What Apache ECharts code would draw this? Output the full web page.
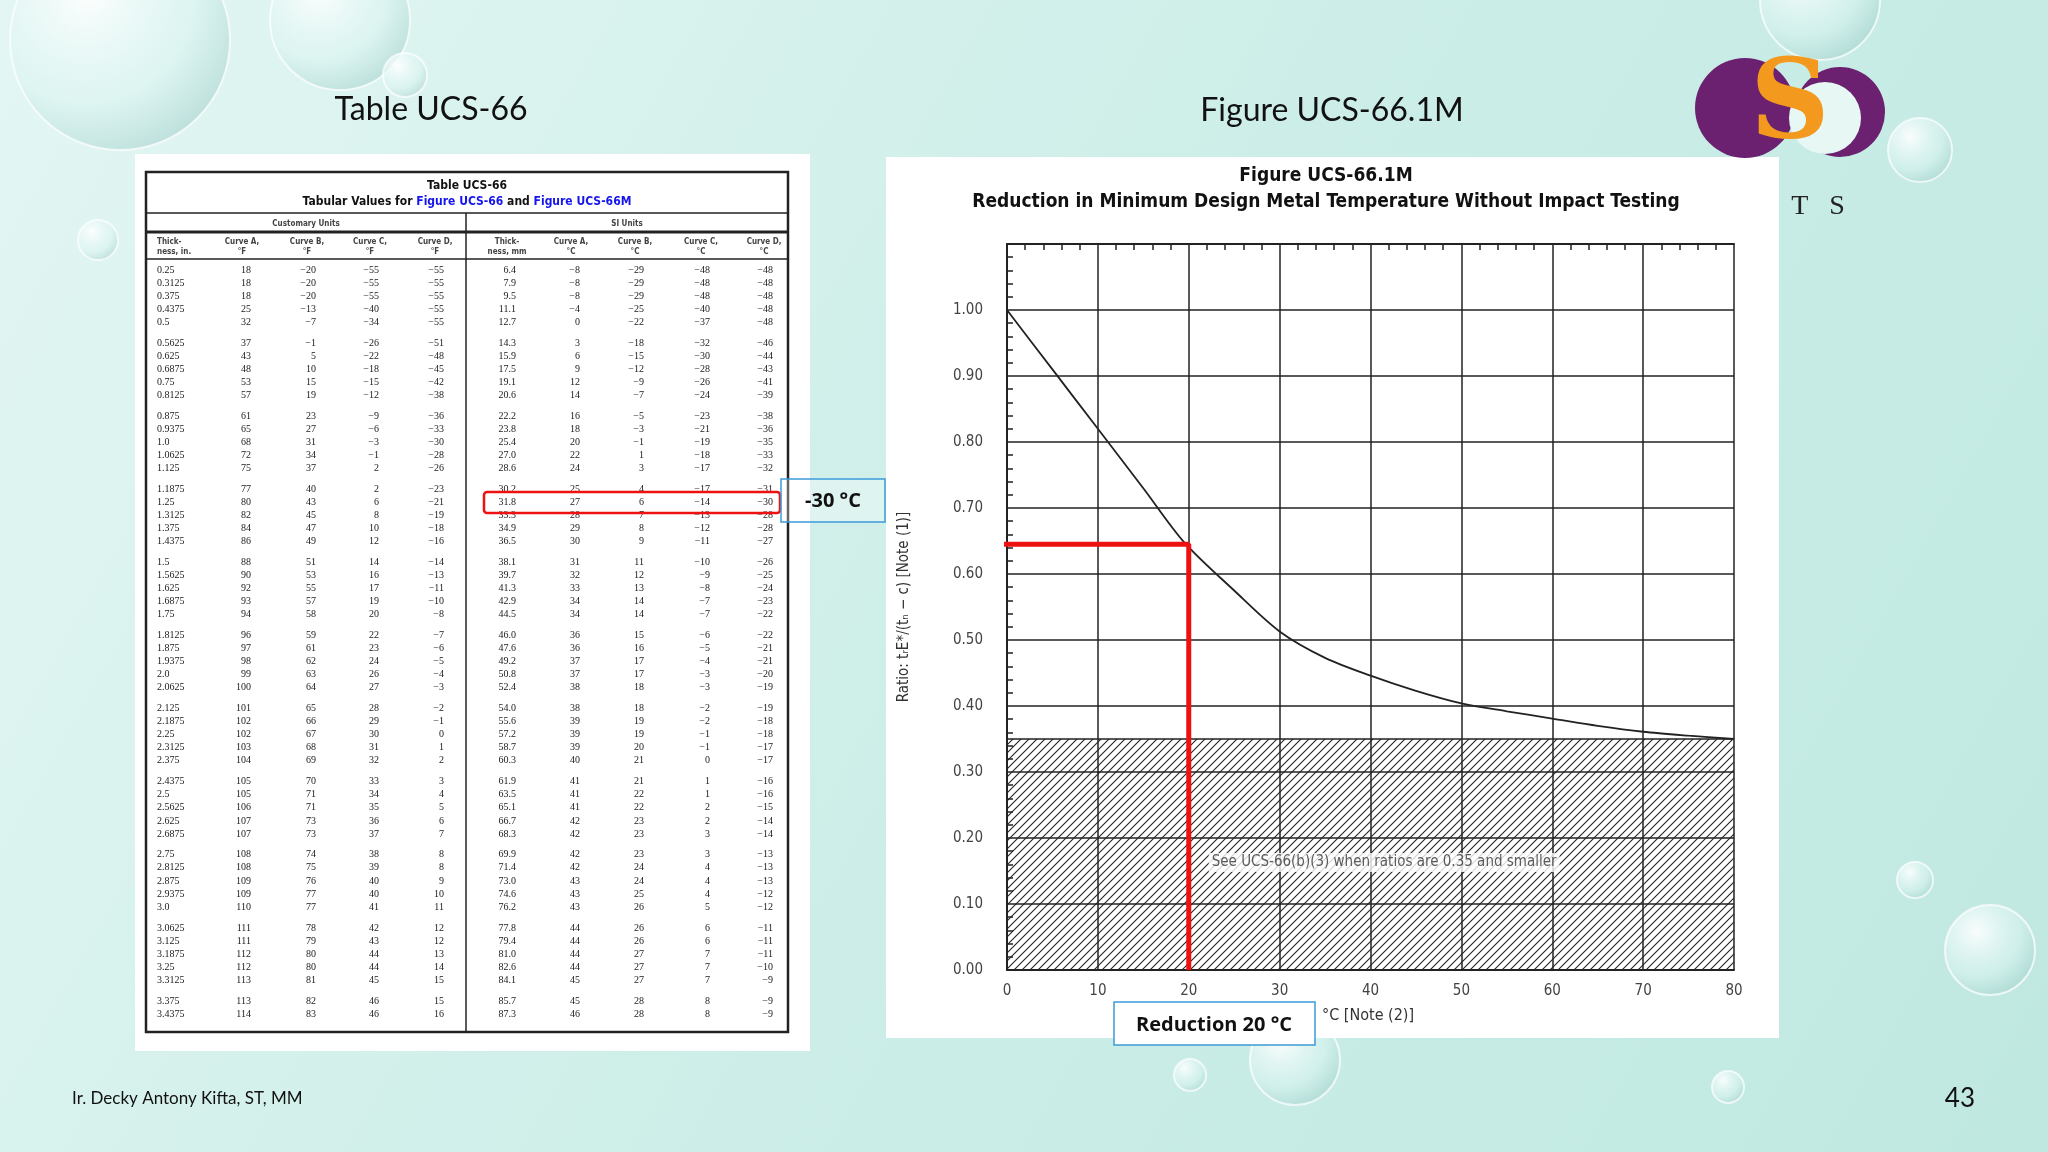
<!DOCTYPE html>
<html><head><meta charset="utf-8">
<script src="https://cdn.jsdelivr.net/npm/echarts@6/dist/echarts.min.js"></script>
<style>html,body{margin:0;padding:0;}#c{width:2048px;height:1152px;}</style>
</head><body><div id="c"></div>
<script>
// ---- chart data ----
const curveX = [0, 5, 10, 15, 19.5, 25, 30, 35, 40, 45, 50, 55, 60, 65, 70, 75, 80];
const curveY = [1.0, 0.91, 0.82, 0.73, 0.648, 0.575, 0.513, 0.473, 0.446, 0.423, 0.404, 0.392, 0.381, 0.37, 0.361, 0.355, 0.35];
const hatchX = [0, 80];
const hatchY = [0.35, 0.35];
const reductionX = 20;
const reductionRatio = 0.645;
const yTicks = ['0.00','0.10','0.20','0.30','0.40','0.50','0.60','0.70','0.80','0.90','1.00'];
const xTicks = [0,10,20,30,40,50,60,70,80];

// ---- table data (Table UCS-66) ----
const thickIn = ['0.25','0.3125','0.375','0.4375','0.5','0.5625','0.625','0.6875','0.75','0.8125','0.875','0.9375','1.0','1.0625','1.125','1.1875','1.25','1.3125','1.375','1.4375','1.5','1.5625','1.625','1.6875','1.75','1.8125','1.875','1.9375','2.0','2.0625','2.125','2.1875','2.25','2.3125','2.375','2.4375','2.5','2.5625','2.625','2.6875','2.75','2.8125','2.875','2.9375','3.0','3.0625','3.125','3.1875','3.25','3.3125','3.375','3.4375'];
const curveAF = [18,18,18,25,32,37,43,48,53,57,61,65,68,72,75,77,80,82,84,86,88,90,92,93,94,96,97,98,99,100,101,102,102,103,104,105,105,106,107,107,108,108,109,109,110,111,111,112,112,113,113,114];
const curveBF = [-20,-20,-20,-13,-7,-1,5,10,15,19,23,27,31,34,37,40,43,45,47,49,51,53,55,57,58,59,61,62,63,64,65,66,67,68,69,70,71,71,73,73,74,75,76,77,77,78,79,80,80,81,82,83];
const curveCF = [-55,-55,-55,-40,-34,-26,-22,-18,-15,-12,-9,-6,-3,-1,2,2,6,8,10,12,14,16,17,19,20,22,23,24,26,27,28,29,30,31,32,33,34,35,36,37,38,39,40,40,41,42,43,44,44,45,46,46];
const curveDF = [-55,-55,-55,-55,-55,-51,-48,-45,-42,-38,-36,-33,-30,-28,-26,-23,-21,-19,-18,-16,-14,-13,-11,-10,-8,-7,-6,-5,-4,-3,-2,-1,0,1,2,3,4,5,6,7,8,8,9,10,11,12,12,13,14,15,15,16];
const thickMm = ['6.4','7.9','9.5','11.1','12.7','14.3','15.9','17.5','19.1','20.6','22.2','23.8','25.4','27.0','28.6','30.2','31.8','33.3','34.9','36.5','38.1','39.7','41.3','42.9','44.5','46.0','47.6','49.2','50.8','52.4','54.0','55.6','57.2','58.7','60.3','61.9','63.5','65.1','66.7','68.3','69.9','71.4','73.0','74.6','76.2','77.8','79.4','81.0','82.6','84.1','85.7','87.3'];
const curveAC = [-8,-8,-8,-4,0,3,6,9,12,14,16,18,20,22,24,25,27,28,29,30,31,32,33,34,34,36,36,37,37,38,38,39,39,39,40,41,41,41,42,42,42,42,43,43,43,44,44,44,44,45,45,46];
const curveBC = [-29,-29,-29,-25,-22,-18,-15,-12,-9,-7,-5,-3,-1,1,3,4,6,7,8,9,11,12,13,14,14,15,16,17,17,18,18,19,19,20,21,21,22,22,23,23,23,24,24,25,26,26,26,27,27,27,28,28];
const curveCC = [-48,-48,-48,-40,-37,-32,-30,-28,-26,-24,-23,-21,-19,-18,-17,-17,-14,-13,-12,-11,-10,-9,-8,-7,-7,-6,-5,-4,-3,-3,-2,-2,-1,-1,0,1,1,2,2,3,3,4,4,4,5,6,6,7,7,7,8,8];
const curveDC = [-48,-48,-48,-48,-48,-46,-44,-43,-41,-39,-38,-36,-35,-33,-32,-31,-30,-28,-28,-27,-26,-25,-24,-23,-22,-22,-21,-21,-20,-19,-19,-18,-18,-17,-17,-16,-16,-15,-14,-14,-13,-13,-13,-12,-12,-11,-11,-11,-10,-9,-9,-9];

const fmt = v => (v < 0 ? '\u2212' + Math.abs(v) : String(v));

const chart = echarts.init(document.getElementById('c'));

const pat = document.createElement('canvas');
pat.width = 8; pat.height = 8;
const pc = pat.getContext('2d');
pc.strokeStyle = '#222'; pc.lineWidth = 1.1;
pc.beginPath(); pc.moveTo(-1, 9); pc.lineTo(9, -1); pc.stroke();
pc.beginPath(); pc.moveTo(-1, 1); pc.lineTo(1, -1); pc.stroke();
pc.beginPath(); pc.moveTo(7, 9); pc.lineTo(9, 7); pc.stroke();

const g = [];
g.push({type:'rect', z:-30, shape:{x:0,y:0,width:2048,height:1152}, style:{fill:new echarts.graphic.LinearGradient(0,0,1,1,[{offset:0,color:'#e3f6f3'},{offset:0.5,color:'#cdeee8'},{offset:1,color:'#bfe8e1'}])}});
const drops = [[120,40,110],[340,20,70],[405,75,22],[98,240,20],[1820,0,60],[1920,150,32],[1990,950,45],[1915,880,18],[1295,1060,45],[1190,1075,16],[1728,1087,16]];
drops.forEach(d => g.push({type:'circle', z:-29, shape:{cx:d[0],cy:d[1],r:d[2]}, style:{fill:new echarts.graphic.RadialGradient(0.35,0.3,0.8,[{offset:0,color:'rgba(255,255,255,0.9)'},{offset:0.6,color:'rgba(220,245,242,0.5)'},{offset:1,color:'rgba(150,200,195,0.55)'}]), stroke:'rgba(255,255,255,0.7)', lineWidth:2}}));
g.push({type:'circle', z:-5, shape:{cx:1745,cy:108,r:50}, style:{fill:'#6b2170'}});
g.push({type:'circle', z:-5, shape:{cx:1840,cy:112,r:45}, style:{fill:'#6b2170'}});
g.push({type:'circle', z:-4, shape:{cx:1825,cy:118,r:36}, style:{fill:'#e6f7f4'}});
g.push({type:'text', z:-3, style:{text:'S', x:1790, y:108, font:'bold 110px "DejaVu Serif"', fill:'#f39a1e', align:'center', verticalAlign:'middle'}});
g.push({type:'text', z:-3, style:{text:'T   S', x:1818, y:207, font:'28px "Liberation Serif"', fill:'#222', align:'center', verticalAlign:'middle'}});
g.push({type:'text', style:{text:'Table UCS-66', x:431, y:110, font:'32px Lato', fill:'#111', align:'center', verticalAlign:'middle'}});
g.push({type:'text', style:{text:'Figure UCS-66.1M', x:1332, y:111, font:'32px Lato', fill:'#111', align:'center', verticalAlign:'middle'}});
g.push({type:'rect', z:-10, shape:{x:135,y:154,width:675,height:897}, style:{fill:'#ffffff'}});
g.push({type:'rect', z:-10, shape:{x:886,y:157,width:893,height:881}, style:{fill:'#ffffff'}});
g.push({type:'text', style:{text:'Ir. Decky Antony Kifta, ST, MM', x:72, y:1099, font:'17px Lato', fill:'#111', verticalAlign:'middle'}});
g.push({type:'text', style:{text:'43', x:1975, y:1099, font:'26px Lato', fill:'#111', align:'right', verticalAlign:'middle'}});

const TL = 146, TR = 788, TT = 172, TB = 1032, MID = 466;
g.push({type:'rect', shape:{x:TL,y:TT,width:TR-TL,height:TB-TT}, style:{fill:'none', stroke:'#222', lineWidth:2.5}});
g.push({type:'text', style:{text:'Table UCS-66', x:467, y:186, font:'bold 12px "DejaVu Sans Condensed"', fill:'#111', align:'center', verticalAlign:'middle'}});
g.push({type:'text', style:{text:'{k|Tabular Values for }{b|Figure UCS-66}{k| and }{b|Figure UCS-66M}', x:467, y:202, align:'center', verticalAlign:'middle', rich:{k:{font:'bold 12px "DejaVu Sans Condensed"', fill:'#111'}, b:{font:'bold 12px "DejaVu Sans Condensed"', fill:'#1515ee'}}}});
const hl = (y,w) => g.push({type:'line', shape:{x1:TL,y1:y,x2:TR,y2:y}, style:{stroke:'#222', lineWidth:w}});
hl(213,1.5); hl(232,3); hl(259,1.5);
g.push({type:'line', shape:{x1:MID,y1:213,x2:MID,y2:TB}, style:{stroke:'#222', lineWidth:1.5}});
g.push({type:'text', style:{text:'Customary Units', x:(TL+MID)/2, y:224, font:'bold 8px "DejaVu Sans Condensed"', fill:'#444', align:'center', verticalAlign:'middle'}});
g.push({type:'text', style:{text:'SI Units', x:(MID+TR)/2, y:224, font:'bold 8px "DejaVu Sans Condensed"', fill:'#444', align:'center', verticalAlign:'middle'}});
const colX = [157,242,307,370,435,507,571,635,701,764];
const heads = [['Thick-','ness, in.'],['Curve A,','\u00b0F'],['Curve B,','\u00b0F'],['Curve C,','\u00b0F'],['Curve D,','\u00b0F'],['Thick-','ness, mm'],['Curve A,','\u00b0C'],['Curve B,','\u00b0C'],['Curve C,','\u00b0C'],['Curve D,','\u00b0C']];
heads.forEach((h,i) => {
  const al = i === 0 ? 'left' : 'center';
  g.push({type:'text', style:{text:h[0], x:colX[i], y:242, font:'bold 8px "DejaVu Sans Condensed"', fill:'#444', align:al, verticalAlign:'middle'}});
  g.push({type:'text', style:{text:h[1], x:colX[i], y:252, font:'bold 8px "DejaVu Sans Condensed"', fill:'#444', align:al, verticalAlign:'middle'}});
});
const cols = [thickIn, curveAF.map(fmt), curveBF.map(fmt), curveCF.map(fmt), curveDF.map(fmt), thickMm, curveAC.map(fmt), curveBC.map(fmt), curveCC.map(fmt), curveDC.map(fmt)];
for (let r = 0; r < thickIn.length; r++) {
  const y = 270 + Math.floor(r/5)*73.1 + (r%5)*13.06;
  cols.forEach((c,i) => g.push({type:'text', style:{text:c[r], x:colX[i]+(i===0?0:9), y:y, font:'10px "Liberation Serif"', fill:'#1a1a1a', align:i===0?'left':'right', verticalAlign:'middle'}}));
}
g.push({type:'rect', shape:{x:484,y:492,width:296,height:21,r:3}, style:{fill:'none', stroke:'#ee1111', lineWidth:2.5}});
g.push({type:'rect', shape:{x:781,y:479,width:104,height:43}, style:{fill:'rgba(255,255,255,0.3)', stroke:'#3d9ad9', lineWidth:1.5}});
g.push({type:'text', style:{text:'-30 \u00b0C', x:833, y:501, font:'bold 20px "Open Sans"', fill:'#111', align:'center', verticalAlign:'middle'}});
g.push({type:'text', style:{text:'Figure UCS-66.1M', x:1326, y:176, font:'bold 19px "DejaVu Sans Condensed"', fill:'#111', align:'center', verticalAlign:'middle'}});
g.push({type:'text', style:{text:'Reduction in Minimum Design Metal Temperature Without Impact Testing', x:1326, y:202, font:'bold 19px "DejaVu Sans Condensed"', fill:'#111', align:'center', verticalAlign:'middle'}});
g.push({type:'rect', shape:{x:1114,y:1002,width:201,height:43}, style:{fill:'#fff', stroke:'#3d9ad9', lineWidth:1.5}});
g.push({type:'text', style:{text:'Reduction 20 \u00b0C', x:1214, y:1025, font:'bold 20px "Open Sans"', fill:'#111', align:'center', verticalAlign:'middle'}});
g.push({type:'text', style:{text:'\u00b0C [Note (2)]', x:1322, y:1016, font:'16px "DejaVu Sans Condensed"', fill:'#333', verticalAlign:'middle'}});

const option = {
  animation:false,
  graphic:{elements:g},
  grid:{left:1007, right:2048-1734, top:244, bottom:1152-970},
  xAxis:[{type:'value', min:0, max:80, interval:10,
    axisLine:{lineStyle:{color:'#222', width:2}}, axisTick:{show:false, inside:true},
    axisLabel:{color:'#444', fontSize:15, margin:14, fontFamily:'DejaVu Sans Condensed'},
    splitLine:{show:true, lineStyle:{color:'#222', width:1.5}}},
    {type:'value', position:'top', min:0, max:80, interval:10,
    axisLine:{show:true, lineStyle:{color:'#222', width:2}}, axisTick:{show:true, inside:true, length:0.01},
    axisLabel:{show:false}, splitLine:{show:false},
    minorTick:{show:true, splitNumber:5, length:6, lineStyle:{color:'#222', width:1.5}}}],
  yAxis:{type:'value', min:0, max:1.1, interval:0.1,
    name:'Ratio: t\u1d63E*/(t\u2099 \u2212 c) [Note (1)]', nameLocation:'middle', nameGap:95, nameRotate:90,
    nameTextStyle:{color:'#333', fontSize:15, fontFamily:'DejaVu Sans Condensed'},
    axisLine:{show:true, lineStyle:{color:'#222', width:2}}, axisTick:{show:true, inside:true, length:0.01},
    minorTick:{show:true, splitNumber:5, length:6, lineStyle:{color:'#222', width:1.5}},
    axisLabel:{color:'#444', fontSize:15, margin:24, fontFamily:'DejaVu Sans Condensed', formatter:v => v > 1.05 ? '' : v.toFixed(2)},
    splitLine:{show:true, lineStyle:{color:'#222', width:1.5}}},
  series:[
    {type:'line', data:hatchX.map((x,i)=>[x,hatchY[i]]), symbol:'none', lineStyle:{color:'#222', width:1.5},
     areaStyle:{color:{image:pat, repeat:'repeat'}, opacity:1}, z:2,
     markLine:{silent:true, symbol:'none', lineStyle:{opacity:0}, label:{show:true, position:'start', formatter:'0.35', color:'#444', fontSize:15, fontFamily:'DejaVu Sans Condensed', distance:24}, data:[{yAxis:0.35}]}},
    {type:'line', data:curveX.map((x,i)=>[x,curveY[i]]), symbol:'none', smooth:0.3, lineStyle:{color:'#222', width:1.8}, z:3},
    {type:'line', data:[[-1.6,reductionRatio],[reductionX,reductionRatio],[reductionX,0]], clip:false, symbol:'none', lineStyle:{color:'#ee1111', width:5}, z:6},
    {type:'scatter', data:[[41.5,0.163]], symbolSize:0, z:5,
     label:{show:true, formatter:'See UCS-66(b)(3) when ratios are 0.35 and smaller', color:'#333', fontSize:15, fontFamily:'DejaVu Sans Condensed', backgroundColor:'#fff', padding:[2,3]}}
  ]
};
chart.setOption(option);
</script></body></html>
